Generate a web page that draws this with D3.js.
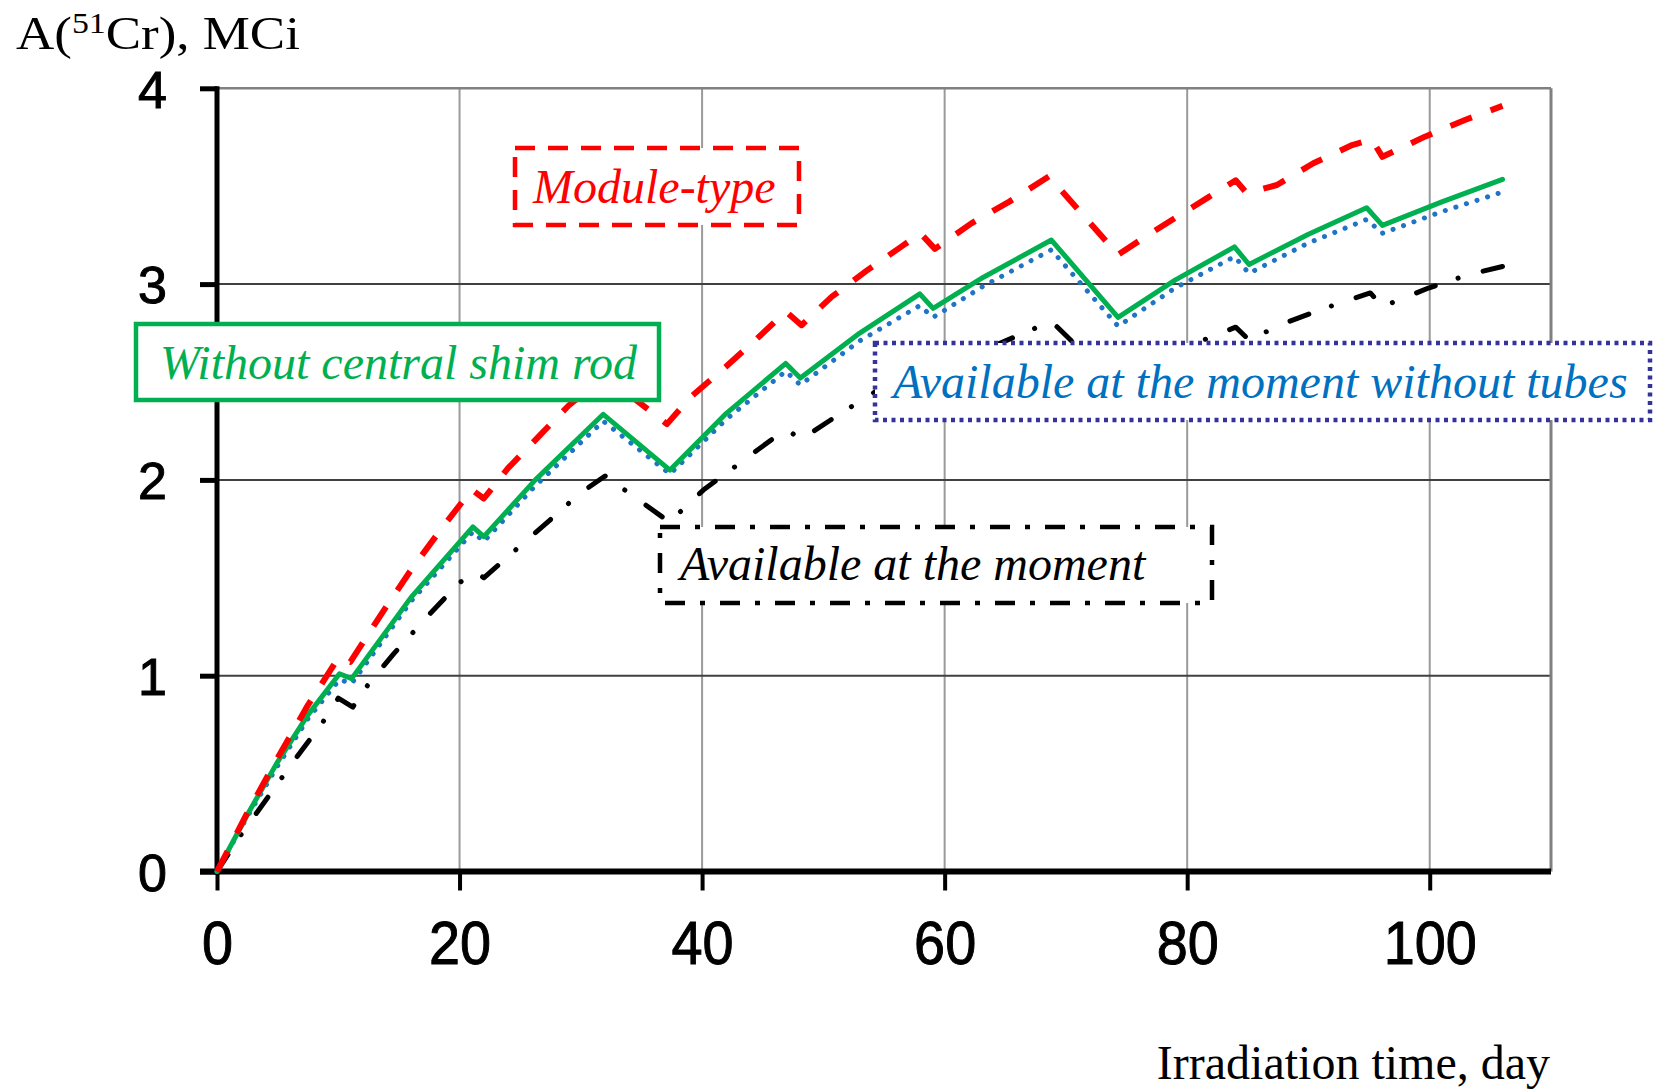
<!DOCTYPE html>
<html lang="en">
<head>
  <meta charset="utf-8">
  <title>A(51Cr) vs irradiation time</title>
  <script src="https://d3js.org/d3.v7.min.js"></script>
  <style>
    body { margin: 0; background: #fff; }
    .serif { font-family: "Liberation Serif", "Times New Roman", serif; }
    .note { font-family: "Liberation Serif", "Times New Roman", serif; font-style: italic; font-size: 48px; }
  </style>
</head>
<body>
<script>
// [day, MCi]
var moduleType = [[0,0],[2.5,0.30],[5,0.58],[7.5,0.85],[10,1.09],[11,1.07],[13.5,1.31],[16,1.54],[18.5,1.75],
  [21,1.95],[22,1.905],[24,2.06],[26.5,2.22],[29,2.38],[32,2.53],[37.1,2.285],[39,2.42],[42,2.58],[44.5,2.72],
  [46.9,2.86],[48.2,2.79],[50.7,2.936],[53.6,3.07],[56.4,3.19],[58,3.26],[59.2,3.18],[62.2,3.31],[65.3,3.42],
  [68.6,3.55],[74.3,3.15],[77.2,3.268],[81.6,3.438],[84,3.53],[84.9,3.465],[87.4,3.506],[90.4,3.617],
  [93.6,3.71],[95.2,3.74],[96.1,3.65],[99.6,3.753],[102.9,3.838],[106,3.91]];

var noShimRod = [[0,0],[2.5,0.29],[5,0.56],[7.5,0.80],[10.1,1.01],[11.1,0.985],[16,1.40],[21.1,1.76],[22,1.71],
  [26.25,2.0],[31.85,2.335],[37.35,2.05],[42,2.34],[46.9,2.595],[48.1,2.52],[53,2.75],[57.95,2.95],[59.05,2.876],
  [63.2,3.035],[68.8,3.225],[74.3,2.83],[79,3.02],[83.9,3.19],[85.1,3.10],[90,3.255],[94.8,3.39],[96.1,3.30],
  [101,3.42],[106,3.535]];

var noTubes = [[0,0],[2.5,0.28],[5,0.54],[7.5,0.78],[10.1,0.98],[11.1,0.96],[16,1.38],[21.1,1.735],[22,1.685],
  [26.25,1.97],[31.85,2.30],[37.35,2.03],[42,2.31],[46.9,2.555],[48.1,2.485],[53,2.71],[57.95,2.89],[59.05,2.83],
  [63.2,2.99],[68.8,3.175],[74.3,2.785],[79,2.98],[83.9,3.14],[85.1,3.055],[90,3.21],[94.8,3.33],[96.1,3.26],
  [101,3.37],[106,3.47]];

var atMoment = [[0,0],[2,0.19],[4.2,0.38],[6.4,0.57],[8.7,0.76],[10,0.885],[11.2,0.84],[12.5,0.958],[14.6,1.114],
  [17.6,1.319],[20,1.475],[21.3,1.53],[22,1.50],[24.3,1.625],[27,1.77],[29.9,1.93],[32,2.02],[34.2,1.923],
  [37.3,1.785],[40.1,1.948],[43.1,2.085],[46,2.218],[47.3,2.245],[48.1,2.205],[50.6,2.306],[53.6,2.425],
  [58,2.59],[59.1,2.53],[63.5,2.67],[68.8,2.81],[74.3,2.48],[78,2.62],[81,2.706],[84,2.78],[85.1,2.715],
  [88,2.80],[91.5,2.88],[95.1,2.955],[96.1,2.885],[99.9,2.98],[103.3,3.05],[106,3.09]];

var xTicks = [0, 20, 40, 60, 80, 100];
var yTicks = [0, 1, 2, 3, 4];
var xMax = 110, yMax = 4;

var W = 1654, H = 1089;
var svg = d3.select("body").append("svg").attr("width", W).attr("height", H);

var x = d3.scaleLinear().domain([0, xMax]).range([217, 1551]);
var y = d3.scaleLinear().domain([0, yMax]).range([871.5, 88.3]);

// grid
svg.selectAll(".vgrid").data(xTicks.filter(function(d){ return d > 0; })).enter()
  .append("line").attr("x1", x).attr("x2", x).attr("y1", y(yMax)).attr("y2", y(0))
  .attr("stroke", "#9a9a9a").attr("stroke-width", 2);
svg.selectAll(".hgrid").data(yTicks.filter(function(d){ return d > 0 && d < yMax; })).enter()
  .append("line").attr("x1", x(0)).attr("x2", x(xMax)).attr("y1", y).attr("y2", y)
  .attr("stroke", "#404040").attr("stroke-width", 2);
svg.append("line").attr("x1", x(0)).attr("x2", x(xMax)).attr("y1", y(yMax)).attr("y2", y(yMax))
  .attr("stroke", "#808080").attr("stroke-width", 2.5);
svg.append("line").attr("x1", x(xMax)).attr("x2", x(xMax)).attr("y1", y(yMax)).attr("y2", y(0))
  .attr("stroke", "#808080").attr("stroke-width", 3);

// axes
var xAxis = svg.append("g").attr("transform", "translate(0," + y(0) + ")")
  .call(d3.axisBottom(x).tickValues(xTicks).tickFormat(d3.format("d")).tickSize(19));
xAxis.select(".domain").remove();
xAxis.selectAll(".tick line").attr("stroke", "#000").attr("stroke-width", 4);
xAxis.selectAll("text").attr("fill", "#000").attr("stroke", "#000").attr("stroke-width", 1)
  .attr("y", 93).attr("dy", 0).attr("transform", "scale(0.9,1)")
  .style("font-family", "'Liberation Sans', Arial, sans-serif").style("font-size", "62px");

var yAxis = svg.append("g").attr("transform", "translate(" + x(0) + ",0)")
  .call(d3.axisLeft(y).tickValues(yTicks).tickFormat(d3.format("d")).tickSize(17).tickPadding(33));
yAxis.select(".domain").remove();
yAxis.selectAll(".tick line").attr("stroke", "#000").attr("stroke-width", 5);
yAxis.selectAll("text").attr("fill", "#000").attr("stroke", "#000").attr("stroke-width", 1).attr("dy", "0.36em")
  .style("font-family", "'Liberation Sans', Arial, sans-serif").style("font-size", "52px");

svg.append("line").attr("x1", x(0)).attr("x2", x(0)).attr("y1", y(yMax) - 2).attr("y2", y(0) + 3)
  .attr("stroke", "#000").attr("stroke-width", 5);
svg.append("line").attr("x1", x(0) - 17).attr("x2", x(xMax)).attr("y1", y(0)).attr("y2", y(0))
  .attr("stroke", "#000").attr("stroke-width", 6);

// series
var line = d3.line().x(function(d){ return x(d[0]); }).y(function(d){ return y(d[1]); });
var series = [
  { data: atMoment, color: "#000", width: 5, dash: "20,24,0.1,26", cap: "round" },
  { data: noTubes, color: "#1f74c6", width: 5, dash: "0.1,11", cap: "round" },
  { data: noShimRod, color: "#00b050", width: 5, dash: null, cap: "round" },
  { data: moduleType, color: "#ff0000", width: 6, dash: "23,20", cap: "butt" }
];
svg.selectAll(".series").data(series).enter().append("path")
  .attr("d", function(s){ return line(s.data); })
  .attr("fill", "none")
  .attr("stroke", function(s){ return s.color; })
  .attr("stroke-width", function(s){ return s.width; })
  .attr("stroke-dasharray", function(s){ return s.dash; })
  .attr("stroke-linecap", function(s){ return s.cap; })
  .attr("stroke-linejoin", "round");

// labelled boxes
var notes = [
  { text: "Module-type", color: "#ff0000", box: "#ff0000", dash: "20,13",
    x0: 515, x1: 799, y0: 148, y1: 225, tx: 533, ty: 203 },
  { text: "Without central shim rod", color: "#00b050", box: "#00b050", dash: null,
    x0: 136, x1: 659, y0: 324, y1: 400, tx: 160, ty: 379 },
  { text: "Available at the moment without tubes", color: "#0070c0", box: "#33339a", dash: "4,4.5",
    x0: 875, x1: 1650, y0: 343, y1: 420, tx: 893, ty: 398 },
  { text: "Available at the moment", color: "#000", box: "#000", dash: "20,15,5,15",
    x0: 660, x1: 1212, y0: 527, y1: 603, tx: 680, ty: 580 }
];
var g = svg.selectAll(".noteg").data(notes).enter().append("g");
g.append("rect")
  .attr("x", function(n){ return n.x0; }).attr("y", function(n){ return n.y0; })
  .attr("width", function(n){ return n.x1 - n.x0; }).attr("height", function(n){ return n.y1 - n.y0; })
  .attr("fill", "#fff").attr("stroke", function(n){ return n.box; })
  .attr("stroke-width", 4.5)
  .attr("stroke-dasharray", function(n){ return n.dash; });
g.append("text").attr("class", "note")
  .attr("x", function(n){ return n.tx; }).attr("y", function(n){ return n.ty; })
  .attr("fill", function(n){ return n.color; })
  .text(function(n){ return n.text; });

// axis titles
var yt = svg.append("text").attr("class", "serif").style("font-size", "47px").attr("fill", "#000");
yt.append("tspan").text("A(");
yt.append("tspan").attr("dy", -16).style("font-size", "30px").text("51");
yt.append("tspan").attr("dy", 16).text("Cr), MCi");
var yw = yt.node().getComputedTextLength();
yt.attr("transform", "translate(16,49) scale(" + (284 / yw) + ",1)");

svg.append("text").attr("class", "serif").style("font-size", "48px").attr("fill", "#000")
  .attr("x", 1550).attr("y", 1079).attr("text-anchor", "end").text("Irradiation time, day");
</script>
</body>
</html>
